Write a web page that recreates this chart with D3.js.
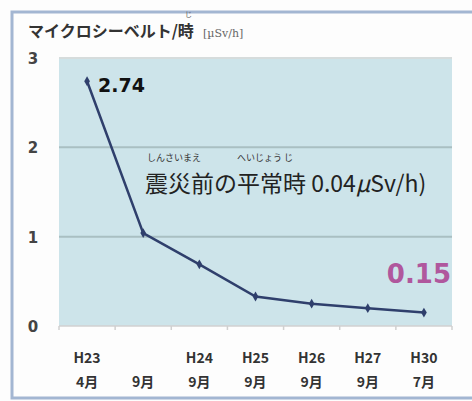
<!DOCTYPE html>
<html>
<head>
<meta charset="utf-8">
<script src="https://cdn.jsdelivr.net/npm/d3@7"></script>
<style>
  body { margin: 0; background: #fff; }
  svg { display: block; font-family: "Noto Sans CJK JP", "Noto Sans", sans-serif; }
</style>
</head>
<body>
<div id="chart"></div>
<script>
const periodTop = ["H23", "", "H24", "H25", "H26", "H27", "H30"];
const periodBottom = ["4月", "9月", "9月", "9月", "9月", "9月", "7月"];
const doseValues = [2.74, 1.04, 0.69, 0.33, 0.25, 0.20, 0.15];
const yTicks = [0, 1, 2, 3];

const width = 472;
const height = 401;
const plot = { left: 59, right: 452, top: 58, bottom: 326 };

const svg = d3.select("#chart").append("svg")
  .attr("width", width)
  .attr("height", height);

svg.append("rect").attr("width", width).attr("height", height).attr("fill", "#fdfdfd");

// frame
svg.append("path")
  .attr("d", `M472,12 H12 V398 H472`)
  .attr("fill", "none")
  .attr("stroke", "#a3b6d2")
  .attr("stroke-width", 3);

const x = d3.scaleBand().domain(d3.range(doseValues.length)).range([plot.left, plot.right]);
const y = d3.scaleLinear().domain([0, 3]).range([plot.bottom, plot.top]);

svg.append("rect")
  .attr("x", plot.left).attr("y", plot.top)
  .attr("width", plot.right - plot.left).attr("height", plot.bottom - plot.top)
  .attr("fill", "#cde4ea");

// grid
svg.selectAll(".grid").data(yTicks.filter(d => d > 0)).enter().append("line")
  .attr("x1", plot.left).attr("x2", plot.right)
  .attr("y1", d => y(d)).attr("y2", d => y(d))
  .attr("stroke", d => d === 3 ? "#d6dcdc" : "#a9bfc2")
  .attr("stroke-width", 2);

// axis baseline + ticks
svg.append("line")
  .attr("x1", plot.left).attr("x2", plot.right)
  .attr("y1", plot.bottom).attr("y2", plot.bottom)
  .attr("stroke", "#d0d0d0").attr("stroke-width", 1.5);
svg.selectAll(".xtick").data(d3.range(doseValues.length + 1)).enter().append("line")
  .attr("x1", d => plot.left + d * x.step()).attr("x2", d => plot.left + d * x.step())
  .attr("y1", plot.bottom).attr("y2", plot.bottom + 4)
  .attr("stroke", "#d0d0d0").attr("stroke-width", 1.5);

// y labels
svg.selectAll(".ylab").data(yTicks).enter().append("text")
  .attr("x", 33).attr("y", d => y(d) + 6)
  .attr("text-anchor", "middle")
  .attr("font-size", 15).attr("font-weight", "bold")
  .attr("fill", "#444")
  .attr("font-family", "DejaVu Sans, sans-serif")
  .text(d => d);

// x labels
const xl = svg.selectAll(".xlab").data(doseValues).enter().append("text")
  .attr("text-anchor", "middle")
  .attr("font-size", 14).attr("font-weight", "bold")
  .attr("fill", "#333");
xl.append("tspan")
  .attr("x", (d, i) => x(i) + x.bandwidth() / 2).attr("y", 363)
  .text((d, i) => periodTop[i]);
xl.append("tspan")
  .attr("x", (d, i) => x(i) + x.bandwidth() / 2).attr("y", 387)
  .text((d, i) => periodBottom[i]);

// line
const line = d3.line()
  .x((d, i) => x(i) + x.bandwidth() / 2)
  .y(d => y(d));
svg.append("path").datum(doseValues)
  .attr("d", line)
  .attr("fill", "none")
  .attr("stroke", "#2f3f6c")
  .attr("stroke-width", 2.5);
svg.selectAll(".pt").data(doseValues).enter().append("path")
  .attr("d", d3.symbol(d3.symbolDiamond, 28))
  .attr("transform", (d, i) => `translate(${x(i) + x.bandwidth() / 2},${y(d)})`)
  .attr("fill", "#2f3f6c");

// title
svg.append("text")
  .attr("x", 28).attr("y", 37)
  .attr("font-size", 16).attr("font-weight", "bold")
  .attr("fill", "#333")
  .text("マイクロシーベルト/時");
svg.append("text")
  .attr("x", 185).attr("y", 17)
  .attr("font-size", 7).attr("fill", "#555")
  .text("じ");
svg.append("text")
  .attr("x", 203).attr("y", 37)
  .attr("font-size", 11).attr("fill", "#666")
  .attr("font-family", "DejaVu Serif, serif")
  .text("[µSv/h]");

// value labels
svg.append("text")
  .attr("x", 98).attr("y", 92)
  .attr("font-size", 19).attr("font-weight", "bold")
  .attr("fill", "#111")
  .attr("font-family", "DejaVu Sans, sans-serif")
  .text(d3.format(".2f")(doseValues[0]));
svg.append("text")
  .attr("x", 451).attr("y", 283)
  .attr("text-anchor", "end")
  .attr("font-size", 26).attr("font-weight", "bold")
  .attr("fill", "#b0579d")
  .attr("font-family", "DejaVu Sans, sans-serif")
  .text(d3.format(".2f")(doseValues[doseValues.length - 1]));

// annotation
const note = svg.append("text")
  .attr("x", 145).attr("y", 192)
  .attr("font-size", 23)
  .attr("fill", "#222");
note.append("tspan").text("震災前の平常時 0.04");
note.append("tspan").attr("font-style", "italic").text("μ");
note.append("tspan").text("Sv/h)");
svg.append("text")
  .attr("x", 147).attr("y", 161)
  .attr("font-size", 9).attr("fill", "#333")
  .text("しんさいまえ");
svg.append("text")
  .attr("x", 237).attr("y", 161)
  .attr("font-size", 9).attr("fill", "#333")
  .text("へいじょう じ");
</script>
</body>
</html>
